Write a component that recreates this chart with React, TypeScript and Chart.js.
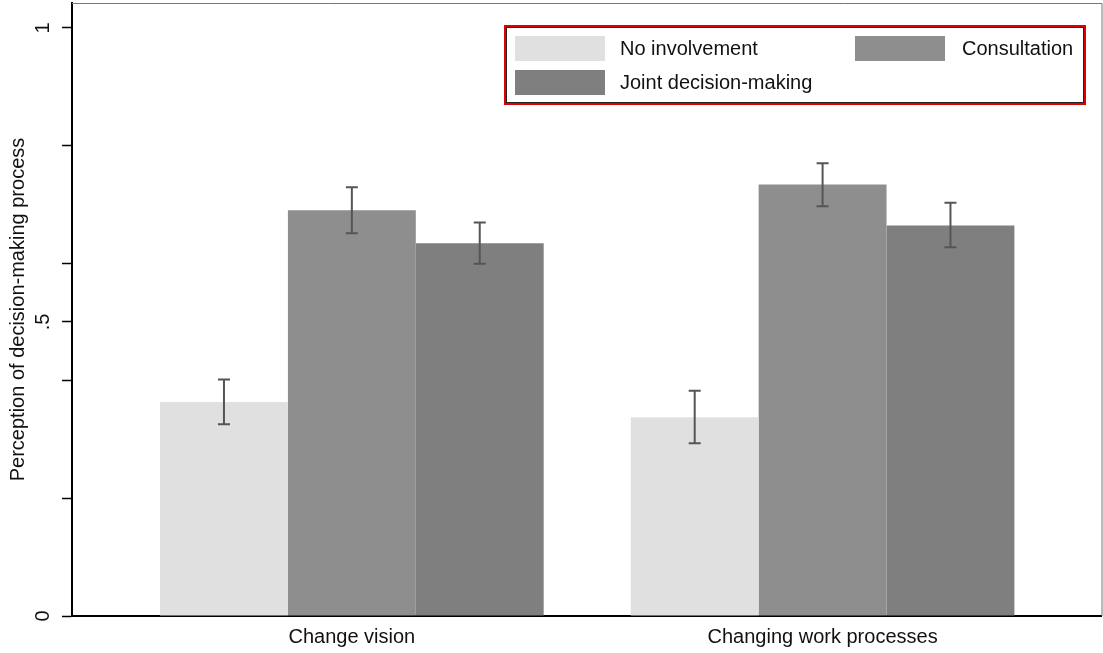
import React, { useEffect, useRef } from "react";
import { Chart, registerables } from "chart.js";

Chart.register(...registerables);

// Category labels (placed at x = 0 and x = 1 on a numeric index axis)
const categories = ["Change vision", "Changing work processes"];
const seriesLabels = ["No involvement", "Consultation", "Joint decision-making"];
const seriesColors = ["#e0e0e0", "#8e8e8e", "#7f7f7f"];

// Means
const noInvolvement = [0.364, 0.338];
const consultation = [0.69, 0.734];
const jointDecision = [0.634, 0.664];

// Confidence interval bounds
const noInvolvementLow = [0.326, 0.294];
const noInvolvementHigh = [0.402, 0.383];
const consultationLow = [0.651, 0.697];
const consultationHigh = [0.729, 0.77];
const jointDecisionLow = [0.599, 0.627];
const jointDecisionHigh = [0.669, 0.703];

// Y axis ticks: labelled majors and unlabelled minors
const yTickValues = [0, 0.2, 0.4, 0.5, 0.6, 0.8, 1];
const yTickLabels: Record<string, string> = { "0": "0", "0.5": ".5", "1": "1" };

const FONT = "'Liberation Sans', Arial, sans-serif";

const seriesValues = [noInvolvement, consultation, jointDecision];
const seriesLow = [noInvolvementLow, consultationLow, jointDecisionLow];
const seriesHigh = [noInvolvementHigh, consultationHigh, jointDecisionHigh];

const errorBarPlugin = {
  id: "errorBars",
  afterDatasetsDraw(chart: any) {
    const ctx = chart.ctx;
    const yScale = chart.scales.y;
    ctx.save();
    ctx.strokeStyle = "#555555";
    ctx.lineWidth = 2;
    chart.data.datasets.forEach((_: any, i: number) => {
      const meta = chart.getDatasetMeta(i);
      meta.data.forEach((bar: any, j: number) => {
        const x = bar.x;
        const yLo = yScale.getPixelForValue(seriesLow[i][j]);
        const yHi = yScale.getPixelForValue(seriesHigh[i][j]);
        const cap = 6;
        ctx.beginPath();
        ctx.moveTo(x, yLo);
        ctx.lineTo(x, yHi);
        ctx.moveTo(x - cap, yLo);
        ctx.lineTo(x + cap, yLo);
        ctx.moveTo(x - cap, yHi);
        ctx.lineTo(x + cap, yHi);
        ctx.stroke();
      });
    });
    ctx.restore();
  },
};

const framePlugin = {
  id: "plotFrame",
  afterDraw(chart: any) {
    const { ctx, chartArea } = chart;
    ctx.save();
    ctx.strokeStyle = "#777777";
    ctx.lineWidth = 1;
    ctx.beginPath();
    ctx.moveTo(chartArea.left, chartArea.top + 0.5);
    ctx.lineTo(chartArea.right + 0.5, chartArea.top + 0.5);
    ctx.lineTo(chartArea.right + 0.5, chartArea.bottom);
    ctx.stroke();
    ctx.restore();
  },
};

const legendBoxPlugin = {
  id: "legendBox",
  afterDraw(chart: any) {
    const ctx = chart.ctx;
    const bx = 505;
    const by = 26;
    const bw = 580;
    const bh = 78;
    ctx.save();
    ctx.fillStyle = "#ffffff";
    ctx.fillRect(bx, by, bw, bh);
    ctx.strokeStyle = "#e00000";
    ctx.lineWidth = 2;
    ctx.strokeRect(bx, by, bw, bh);
    ctx.strokeStyle = "#222222";
    ctx.lineWidth = 1;
    ctx.strokeRect(bx + 1.5, by + 1.5, bw - 3, bh - 3);

    const items = [
      { sx: 515, sy: 36, tx: 620 },
      { sx: 855, sy: 36, tx: 962 },
      { sx: 515, sy: 70, tx: 620 },
    ];
    ctx.font = `20px ${FONT}`;
    ctx.textBaseline = "middle";
    ctx.textAlign = "left";
    items.forEach((it, i) => {
      ctx.fillStyle = seriesColors[i];
      ctx.fillRect(it.sx, it.sy, 90, 25);
      ctx.fillStyle = "#111111";
      ctx.fillText(seriesLabels[i], it.tx, it.sy + 13);
    });
    ctx.restore();
  },
};

export default function App() {
  const canvasRef = useRef<HTMLCanvasElement | null>(null);

  useEffect(() => {
    const canvas = canvasRef.current;
    if (!canvas) return;
    const chart = new Chart(canvas, {
      type: "bar",
      data: {
        datasets: seriesLabels.map((label, i) => ({
          label,
          data: seriesValues[i].map((v, j) => ({ x: j, y: v })),
          backgroundColor: seriesColors[i],
          borderWidth: 0,
          categoryPercentage: 0.815,
          barPercentage: 1,
        })),
      },
      options: {
        responsive: false,
        animation: false,
        layout: { padding: { top: 3, right: 1.5, left: 0, bottom: 0 } },
        plugins: {
          legend: { display: false },
          tooltip: { enabled: false },
        },
        scales: {
          x: {
            type: "linear",
            offset: false,
            min: -0.5945,
            max: 1.5925,
            afterBuildTicks: (scale: any) => {
              scale.ticks = categories.map((_, i) => ({ value: i }));
            },
            afterFit: (scale: any) => {
              scale.height = 37;
              scale.paddingLeft = 0;
              scale.paddingRight = 0;
            },
            grid: { display: false, drawTicks: false, offset: false },
            border: { display: true, color: "#000000", width: 2 },
            ticks: {
              padding: 9,
              color: "#111111",
              font: { family: FONT, size: 20 },
              maxRotation: 0,
              autoSkip: false,
              callback: (v: any) => categories[v] ?? "",
            },
          },
          y: {
            type: "linear",
            min: 0,
            max: 1.0425,
            afterBuildTicks: (scale: any) => {
              scale.ticks = yTickValues.map((v) => ({ value: v }));
            },
            afterFit: (scale: any) => {
              scale.width = 72;
              scale.paddingTop = 0;
              scale.paddingBottom = 0;
            },
            grid: {
              drawOnChartArea: false,
              drawTicks: true,
              tickLength: 10,
              tickColor: "#000000",
              tickWidth: 1.5,
            },
            border: { display: true, color: "#000000", width: 2 },
            ticks: {
              minRotation: 90,
              maxRotation: 90,
              crossAlign: "center",
              padding: 10,
              color: "#111111",
              font: { family: FONT, size: 20 },
              autoSkip: false,
              callback: (v: any) => yTickLabels[String(v)] ?? "",
            },
            title: {
              display: true,
              text: "Perception of decision-making process",
              color: "#111111",
              font: { family: FONT, size: 20 },
              padding: { top: 6, bottom: 0 },
            },
          },
        },
      },
      plugins: [errorBarPlugin, framePlugin, legendBoxPlugin],
    } as any);
    return () => chart.destroy();
  }, []);

  return (
    <div style={{ position: "fixed", left: 0, top: 0, width: 1103, height: 653, background: "#ffffff" }}>
      <canvas ref={canvasRef} width={1103} height={653} />
    </div>
  );
}
